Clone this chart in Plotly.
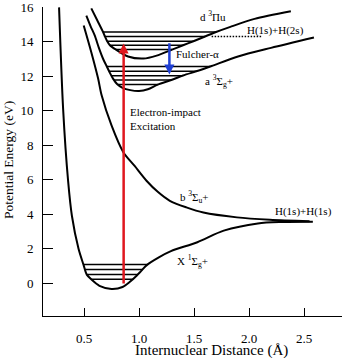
import numpy as np
import plotly.graph_objects as go

# Potential energy curves of H2 (internuclear distance in Å, energy in eV)
x_state_r = [0.273, 0.31, 0.355, 0.39, 0.45, 0.495, 0.525, 0.57, 0.64, 0.75, 0.85, 0.92,
             0.98, 1.02, 1.07, 1.18, 1.29, 1.53, 1.77, 2.08, 2.3, 2.58]
x_state_e = [16.0, 10.1, 5.95, 3.9, 2.0, 1.08, 0.5, 0.2, -0.15, -0.33, -0.22, 0.1,
             0.45, 0.72, 1.05, 1.5, 1.86, 2.38, 3.05, 3.47, 3.55, 3.57]

b_state_r = [0.497, 0.566, 0.627, 0.66, 0.75, 0.857, 0.96, 1.07, 1.17, 1.28, 1.43, 1.585,
             1.89, 2.19, 2.55]
b_state_e = [14.95, 13.4, 11.9, 10.9, 9.15, 7.6, 6.8, 5.93, 5.3, 4.78, 4.4, 4.1,
             3.82, 3.68, 3.59]

a_state_r = [0.521, 0.56, 0.597, 0.635, 0.673, 0.705, 0.735, 0.765, 0.8, 0.85, 0.92, 1.0,
             1.08, 1.17, 1.3, 1.4, 1.536, 1.66, 1.9, 2.2, 2.59]
a_state_e = [15.52, 14.9, 14.37, 13.65, 13.02, 12.6, 12.2, 11.85, 11.55, 11.33, 11.2, 11.15,
             11.25, 11.52, 11.8, 12.05, 12.32, 12.6, 13.15, 13.65, 14.25]

d_state_r = [0.566, 0.62, 0.673, 0.69, 0.71, 0.735, 0.79, 0.9, 1.04, 1.16, 1.3, 1.4, 1.5,
             1.6, 1.7, 1.83, 2.05, 2.38]
d_state_e = [15.94, 15.25, 14.57, 14.31, 14.04, 13.8, 13.55, 13.15, 13.03, 13.2, 13.55, 13.8,
             14.05, 14.31, 14.57, 14.87, 15.33, 15.77]

# Vibrational levels drawn inside each well (eV)
x_levels = [1.08, 0.79, 0.5, 0.23]
a_levels = [12.57, 12.3, 12.03, 11.78, 11.52]
d_levels = [14.57, 14.31, 14.04, 13.8, 13.55]

# H(1s)+H(2s) dissociation limit
limit_2s_r = [1.66, 2.11]
limit_2s_e = [14.31, 14.31]

# Transitions
excitation_r, excitation_e = 0.86, (-0.1, 13.9)
fulcher_r, fulcher_e = 1.276, (14.0, 12.1)

x_ticks = [0.5, 1.0, 1.5, 2.0, 2.5]
y_ticks = [0, 2, 4, 6, 8, 10, 12, 14, 16]

FONT = "Times New Roman, Liberation Serif, serif"
fig = go.Figure()


def add_curve(r, e):
    fig.add_trace(go.Scatter(x=r, y=e, mode="lines",
                             line=dict(color="black", width=2, shape="spline", smoothing=0.8),
                             hoverinfo="skip", showlegend=False))


def add_levels(r, e, levels):
    r = np.asarray(r)
    e = np.asarray(e)
    i_min = int(np.argmin(e))
    left_r, left_e = r[:i_min + 1][::-1], e[:i_min + 1][::-1]
    right_r, right_e = r[i_min:], e[i_min:]
    xs, ys = [], []
    for lev in levels:
        r0 = np.interp(lev, left_e, left_r)
        r1 = np.interp(lev, right_e, right_r)
        xs += [r0, r1, None]
        ys += [lev, lev, None]
    fig.add_trace(go.Scatter(x=xs, y=ys, mode="lines", line=dict(color="black", width=1.5),
                             hoverinfo="skip", showlegend=False))


for r, e in [(x_state_r, x_state_e), (b_state_r, b_state_e),
             (a_state_r, a_state_e), (d_state_r, d_state_e)]:
    add_curve(r, e)

add_levels(x_state_r, x_state_e, x_levels)
add_levels(a_state_r, a_state_e, a_levels)
add_levels(d_state_r, d_state_e, d_levels)

fig.add_trace(go.Scatter(x=limit_2s_r, y=limit_2s_e, mode="lines",
                         line=dict(color="black", width=1.5, dash="1.5px,1.5px"),
                         hoverinfo="skip", showlegend=False))

# Arrows for the excitation and the Fulcher-α emission
for xr, (e0, e1), col in [(excitation_r, excitation_e, "#e0181f"),
                          (fulcher_r, fulcher_e, "#1f3fd4")]:
    fig.add_annotation(x=xr, y=e1, ax=xr, ay=e0, xref="x", yref="y", axref="x", ayref="y",
                       text="", showarrow=True, arrowhead=2, arrowsize=0.8,
                       arrowwidth=2.5, arrowcolor=col)

labels = [
    (1.673, 15.48, "d <sup>3</sup>Πu", "center"),
    (2.24, 14.68, "H(1s)+H(2s)", "center"),
    (1.318, 13.27, "Fulcher-α", "left"),
    (1.73, 11.75, "a <sup>3</sup>Σ<sub>g</sub>+", "center"),
    (0.9, 9.55, "Electron-impact<br>Excitation", "left"),
    (1.5, 4.98, "b <sup>3</sup>Σ<sub>u</sub>+", "center"),
    (2.495, 4.14, "H(1s)+H(1s)", "center"),
    (1.486, 1.27, "X <sup>1</sup>Σ<sub>g</sub>+", "center"),
]
for xr, ye, txt, anchor in labels:
    fig.add_annotation(x=xr, y=ye, xref="x", yref="y", text=txt, showarrow=False,
                       xanchor=anchor, yanchor="middle", align="left",
                       font=dict(family=FONT, size=11, color="black"))

W, H = 342, 358
ML, MR, MT, MB = 43, 0, 5, 42
pw, ph = W - ML - MR, H - MT - MB

# Axis titles, positioned in pixels and converted to paper coordinates
fig.add_annotation(x=(211 - ML) / pw, y=(H - MB - 350.5) / ph, xref="paper", yref="paper",
                   text="Internuclear Distance (Å)", showarrow=False,
                   xanchor="center", yanchor="middle",
                   font=dict(family=FONT, size=15, color="black"))
fig.add_annotation(x=(8 - ML) / pw, y=(H - MB - 159) / ph, xref="paper", yref="paper",
                   text="Potential Energy (eV)", textangle=-90, showarrow=False,
                   xanchor="center", yanchor="middle",
                   font=dict(family=FONT, size=13.5, color="black"))

axis_style = dict(showgrid=False, zeroline=False, showline=True, linecolor="black",
                  linewidth=1, ticks="inside", tickcolor="black", tickwidth=1,
                  ticklabeloverflow="allow",
                  tickfont=dict(family=FONT, size=13, color="black"))
fig.update_xaxes(range=[0.127, 2.845], tickvals=x_ticks,
                 ticktext=[f"{v:.1f}" for v in x_ticks], ticklen=8,
                 ticklabelstandoff=10, **axis_style)
fig.update_yaxes(range=[-1.9, 16.02], tickvals=y_ticks, ticklen=10,
                 ticklabelstandoff=6, **axis_style)

fig.update_layout(width=W, height=H, margin=dict(l=ML, r=MR, t=MT, b=MB),
                  plot_bgcolor="white", paper_bgcolor="white", showlegend=False,
                  font=dict(family=FONT))

fig.write_html("out.html")
